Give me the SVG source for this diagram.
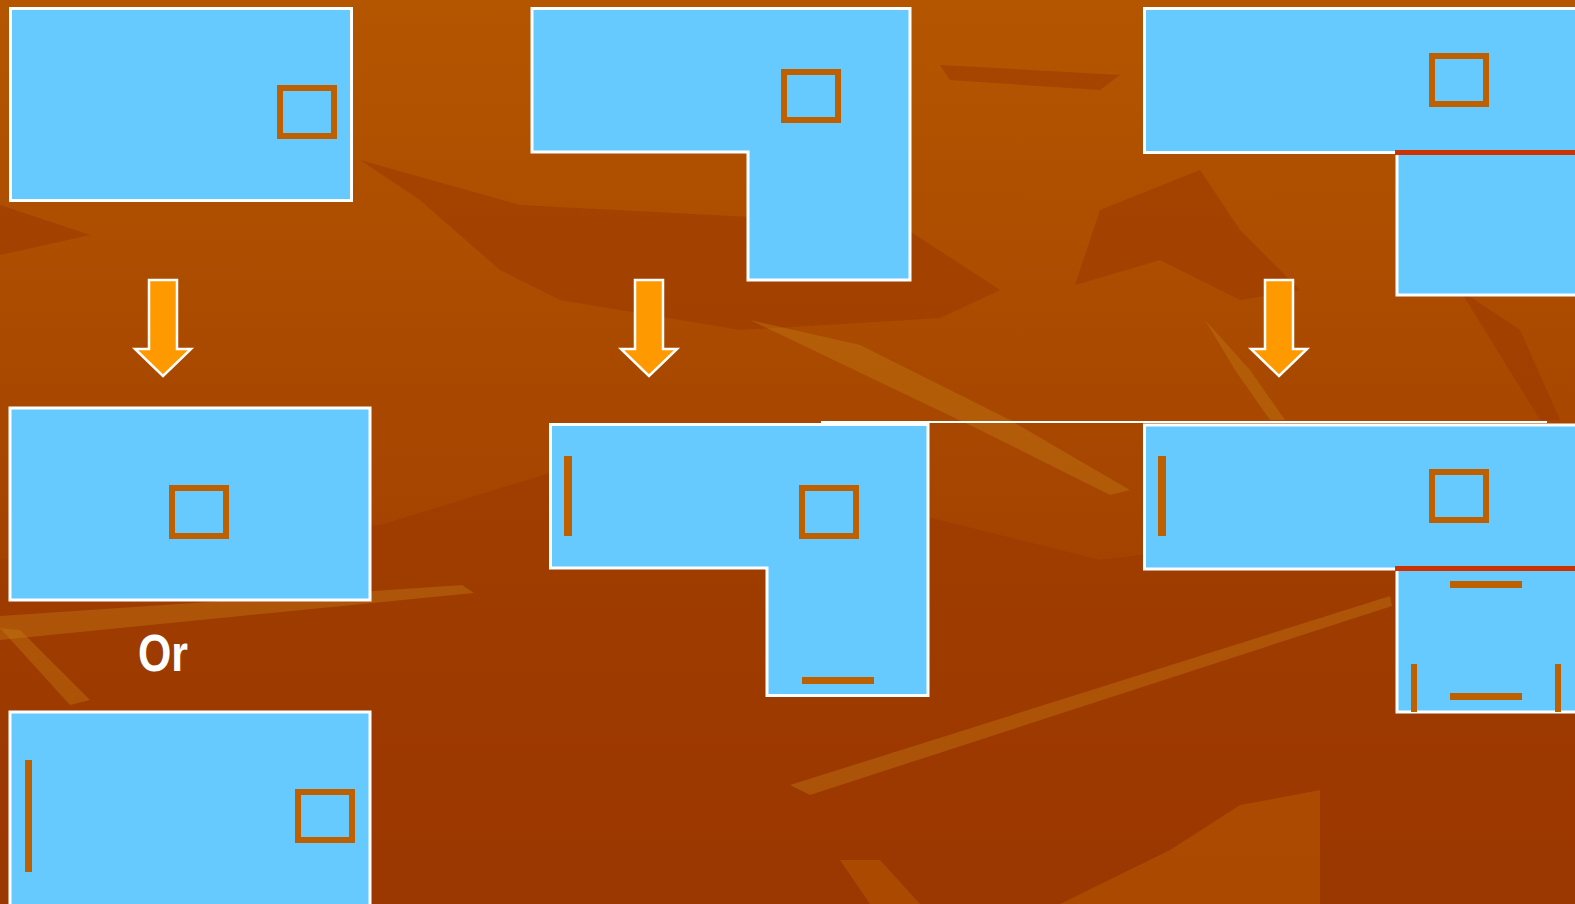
<svg xmlns="http://www.w3.org/2000/svg" width="1575" height="904" viewBox="0 0 1575 904">
<defs>
<style>
.room{fill:#66CAFF;stroke:#FFFFFF;stroke-width:3}
.furn{fill:none;stroke:#BE6000;stroke-width:6}
.bar{fill:#BE6000}
.wall{fill:#CC3300}
.arrow{fill:#FF9900;stroke:#FFFFFF;stroke-width:2.5;stroke-linejoin:miter}
.hl{fill:#C47A14;opacity:0.4}
.dk{fill:#9A3500;opacity:0.5}
.lt{fill:#B85A00;opacity:0.55}
.lbl{font-family:"Liberation Sans",Arial,sans-serif;font-weight:bold;fill:#FFFFFF}
</style>
<linearGradient id="bg" x1="0" y1="0" x2="0" y2="1">
<stop offset="0" stop-color="#B45600"/>
<stop offset="0.45" stop-color="#A84800"/>
<stop offset="1" stop-color="#9C3800"/>
</linearGradient>
</defs>

<g id="background">
<rect x="0" y="0" width="1575" height="904" fill="url(#bg)"/>
<polygon class="dk" points="360,160 520,205 900,225 1000,290 940,318 740,330 560,300 500,270 420,200"/>
<polygon class="dk" points="0,205 90,235 0,255"/>
<polygon class="dk" points="940,65 1120,75 1100,90 950,80"/>
<polygon class="dk" points="1100,210 1200,170 1240,230 1300,290 1240,300 1160,260 1075,285"/>
<polygon class="dk" points="1460,290 1520,330 1560,420 1540,420"/>
<polygon class="dk" points="0,560 380,525 560,470 900,510 1100,560 1390,525 1575,560 1575,904 0,904"/>
<polygon class="lt" points="1060,904 1170,850 1240,805 1320,790 1320,904"/>
<polygon class="lt" points="840,860 880,860 920,904 870,904"/>
<polygon class="hl" points="0,616 462,585 474,593 0,640"/>
<polygon class="hl" points="0,628 20,630 90,700 70,705"/>
<polygon class="hl" points="750,320 860,345 1010,420 1130,490 1110,495 980,430"/>
<polygon class="hl" points="1205,320 1250,370 1285,420 1270,420 1235,370"/>
<polygon class="hl" points="790,785 1390,596 1392,606 810,795" opacity="0.25"/>
</g>

<g id="connectors">
<line x1="821" y1="422" x2="1547" y2="422" stroke="#FFFFFF" stroke-width="2"/>
<polygon id="arrow1" class="arrow" points="149,280 177,280 177,349 191,349 163,376 135,349 149,349"/>
<polygon id="arrow2" class="arrow" points="635,280 663,280 663,349 677,349 649,376 621,349 635,349"/>
<polygon id="arrow3" class="arrow" points="1265,280 1293,280 1293,349 1307,349 1279,376 1251,349 1265,349"/>
</g>

<g id="room-a1">
<rect class="room" x="10.5" y="8.5" width="341" height="192"/>
<rect class="furn" x="280" y="88" width="54" height="48"/>
</g>

<g id="room-b1">
<polygon class="room" points="532,8.5 910,8.5 910,280 748,280 748,152 532,152"/>
<rect class="furn" x="784" y="72" width="54" height="48"/>
</g>

<g id="room-c1">
<rect class="room" x="1397" y="152" width="200" height="143"/>
<rect class="room" x="1144.5" y="8.5" width="460" height="144"/>
<rect class="wall" x="1395" y="150" width="190" height="5"/>
<rect class="furn" x="1432" y="56" width="54" height="48"/>
</g>

<g id="room-a2">
<rect class="room" x="10" y="408" width="360" height="192"/>
<rect class="furn" x="172" y="488" width="54" height="48"/>
</g>

<g id="label-or">
<text class="lbl" x="138" y="671" font-size="52" textLength="50" lengthAdjust="spacingAndGlyphs">Or</text>
</g>

<g id="room-a3">
<rect class="room" x="10" y="712" width="360" height="200"/>
<rect class="furn" x="298" y="792" width="54" height="48"/>
<rect class="bar" x="25" y="760" width="7" height="112"/>
</g>

<g id="room-b2">
<polygon class="room" points="550.5,424.5 928,424.5 928,695.5 767,695.5 767,568 550.5,568"/>
<rect class="furn" x="802" y="488" width="54" height="48"/>
<rect class="bar" x="564" y="456" width="8" height="80"/>
<rect class="bar" x="802" y="677" width="72" height="7"/>
</g>

<g id="room-c2">
<rect class="room" x="1397" y="568" width="200" height="144"/>
<rect class="room" x="1144.5" y="425" width="460" height="144"/>
<rect class="wall" x="1395" y="566" width="190" height="5"/>
<rect class="furn" x="1432" y="472" width="54" height="48"/>
<rect class="bar" x="1158" y="456" width="8" height="80"/>
<rect class="bar" x="1450" y="581" width="72" height="7"/>
<rect class="bar" x="1450" y="693" width="72" height="7"/>
<rect class="bar" x="1411" y="664" width="6" height="48"/>
<rect class="bar" x="1555" y="664" width="6" height="48"/>
</g>
</svg>
